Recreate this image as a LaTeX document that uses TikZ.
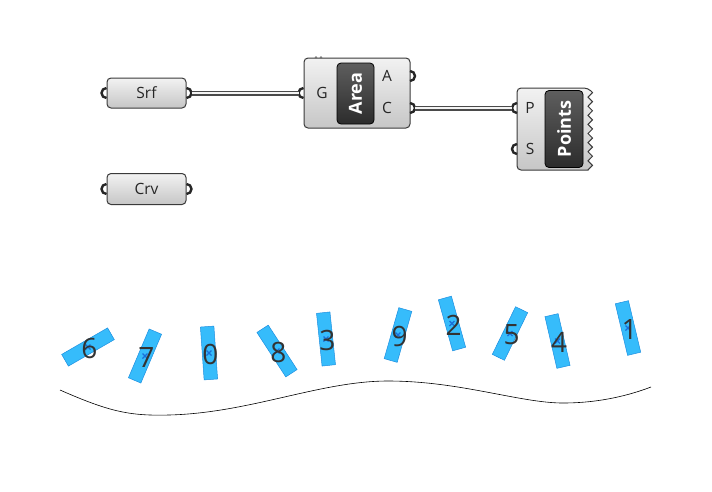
\documentclass[tikz,border=0pt]{standalone}
\usepackage{fontspec}
\setmainfont{Open Sans}

\definecolor{compline}{HTML}{3A3A3A}
\definecolor{comptop}{HTML}{F2F2F2}
\definecolor{compbot}{HTML}{C6C6C6}
\definecolor{captop}{HTML}{5E5E5E}
\definecolor{capbot}{HTML}{2C2C2C}
\definecolor{wireline}{HTML}{4A4A4A}
\definecolor{wirefill}{HTML}{F4F4F4}
\definecolor{stripfill}{HTML}{36BCFB}
\definecolor{stripline}{HTML}{1E8FE0}
\definecolor{crossblue}{HTML}{1A6ED8}
\definecolor{numgray}{HTML}{333333}

\begin{document}
\begin{tikzpicture}[x=1pt, y=-1pt]
  \tikzstyle{comp}=[draw=compline, line width=1pt, rounded corners=4pt, top color=comptop, bottom color=compbot, inner sep=0pt]
  \tikzstyle{capsule}=[draw=black, line width=0.8pt, rounded corners=4pt, top color=captop, bottom color=capbot, text=white, font=\fontsize{18}{18}\selectfont\bfseries, inner sep=0pt]
  \tikzstyle{port}=[draw=black!85, line width=2.4pt]
  \tikzstyle{wire}=[draw=wireline, line width=1.4pt, double=wirefill, double distance=2.2pt]
  \tikzstyle{tag}=[font=\fontsize{15.5}{16}\selectfont, text=black!85, inner sep=0pt]
  \tikzstyle{strip}=[draw=stripline, fill=stripfill, line width=0.5pt, minimum width=53pt, minimum height=13.5pt, inner sep=0pt]
  \tikzstyle{xmark}=[draw=crossblue, line width=1.2pt]
  \tikzstyle{num}=[font=\fontsize{28}{28}\selectfont, text=numgray, inner sep=0pt]

  \useasboundingbox (0,0) rectangle (712,491);

  % parameter boxes
  \path (146.5,93) node[comp, minimum width=79pt, minimum height=30pt, tag] (srf) {Srf};
  \path (146.5,189) node[comp, minimum width=79pt, minimum height=31pt, tag] (crv) {Crv};
  \foreach \c in {srf, crv}
  {
    \draw[port] ([yshift=5pt]\c.west) arc[start angle=90, end angle=270, radius=5pt];
    \draw[port] ([yshift=5pt]\c.east) arc[start angle=90, end angle=-90, radius=5pt];
  }

  % area component
  \path (357,93) node[comp, minimum width=106pt, minimum height=70pt] (area) {};
  \path (355.5,93.5) node[capsule, minimum width=37pt, minimum height=61pt] (areacap) {\rotatebox{90}{Area}};
  \fill[compline!70] (316,57.5) circle (1.4pt) (321,57.5) circle (1.4pt);
  \path (322,93) node[tag] (area-gl) {G};
  \path (387,76) node[tag] (area-al) {A};
  \path (387,108) node[tag] (area-cl) {C};
  \path (410,76) coordinate (area-a);
  \path (410,108) coordinate (area-c);
  \draw[port] ([yshift=5pt]area.west) arc[start angle=90, end angle=270, radius=5pt];
  \foreach \p in {area-a, area-c}
  {
    \draw[port] ([yshift=5pt]\p) arc[start angle=90, end angle=-90, radius=5pt];
  }

  % points component
  \draw[comp] (588,170) [rounded corners=4pt] -- (517,170) -- (517,88) -- (588,88) [sharp corners]
    \foreach \k in {1,...,9} { -- ++(4.5,4.55) -- ++(-4.5,4.55) } -- cycle;
  \path (564,129) node[capsule, minimum width=38pt, minimum height=77pt] (pointscap) {\rotatebox{90}{Points}};
  \path (530,108) node[tag] (pts-pl) {P};
  \path (530,149) node[tag] (pts-sl) {S};
  \path (517,108) coordinate (pts-p);
  \path (517,149) coordinate (pts-s);
  \foreach \p in {pts-p, pts-s}
  {
    \draw[port] ([yshift=5pt]\p) arc[start angle=90, end angle=270, radius=5pt];
  }

  % wires
  \path ([xshift=5pt]srf.east) coordinate (srf-o);
  \path ([xshift=-5pt]area.west) coordinate (area-g);
  \path ([xshift=5pt]area-c) coordinate (area-co);
  \path ([xshift=-5pt]pts-p) coordinate (pts-pi);
  \draw[wire] (srf-o) -- (area-g);
  \draw[wire] (area-co) -- (pts-pi);

  % numbered strips
  \foreach \cx/\cy/\ang/\lab in {88/347/30/6, 145/356/67/7, 209/353/94/0, 277/351/123/8, 326/339/96/3,
                                 398/335/74/9, 452/323.5/105.6/2, 510/333.5/64/5, 557.5/341/103/4, 628/328/103.4/1}
  {
    \path (\cx,\cy) node[strip, rotate=\ang] (d\lab) {};
    \draw[xmark] ([shift={(-2.5pt,-2.5pt)}]d\lab.center) -- ([shift={(2.5pt,2.5pt)}]d\lab.center)
                 ([shift={(-2.5pt,2.5pt)}]d\lab.center) -- ([shift={(2.5pt,-2.5pt)}]d\lab.center);
    \path ([shift={(1.5pt,-1.5pt)}]d\lab.center) node[num] (n\lab) {\lab};
  }

  % curve
  \draw[line width=0.6pt] (60,390) .. controls (110,412) and (130,416) .. (169,415)
    .. controls (250,413) and (320,381) .. (388,381)
    .. controls (460,381) and (520,403) .. (563,403)
    .. controls (600,403) and (630,395) .. (651,387);
\end{tikzpicture}
\end{document}
